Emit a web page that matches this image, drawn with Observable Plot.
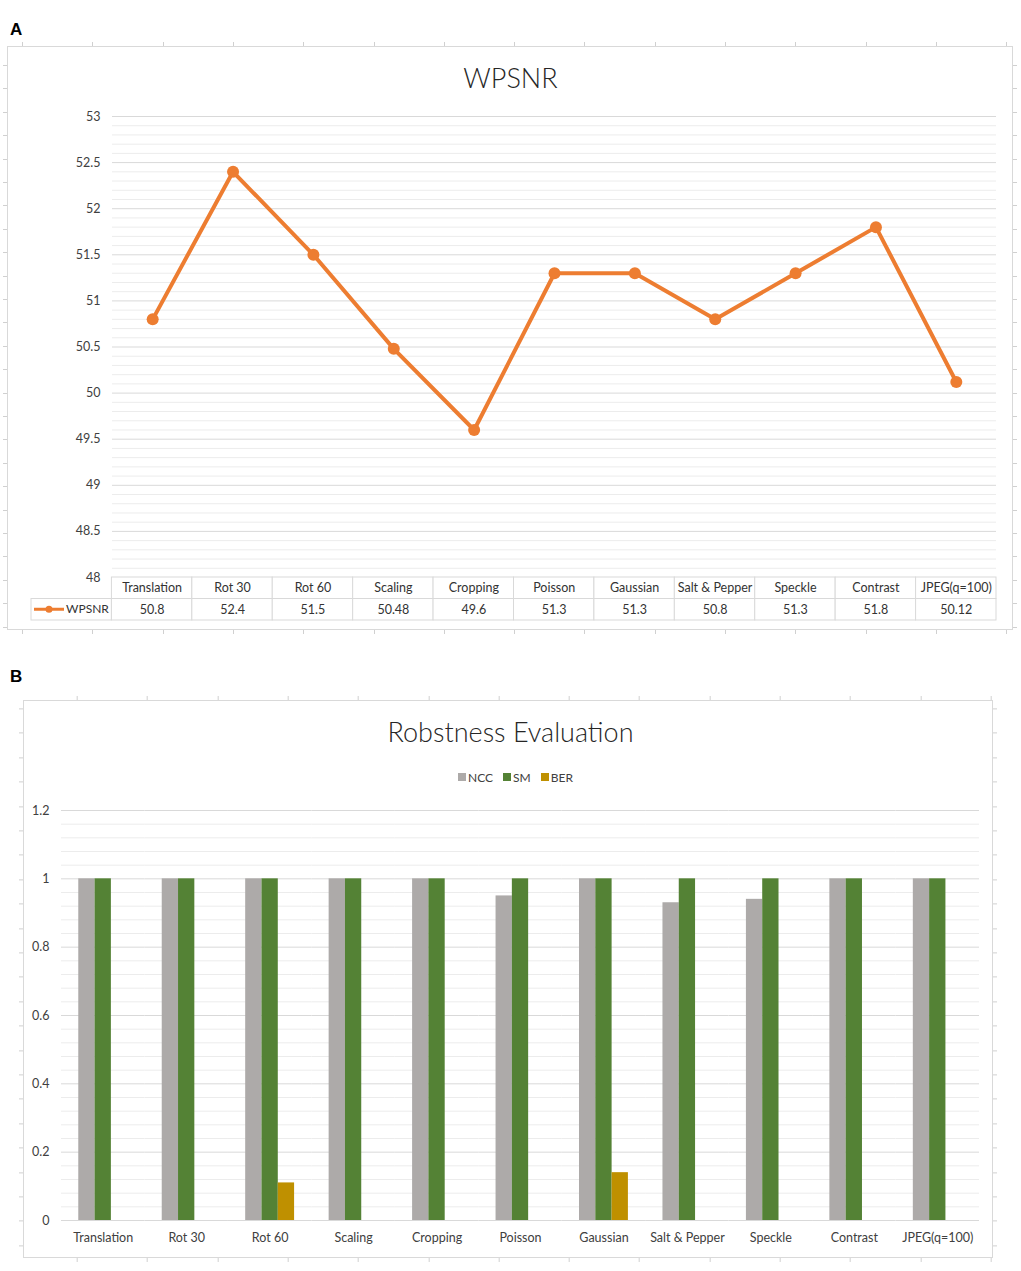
<!DOCTYPE html>
<html><head><meta charset="utf-8">
<script src="https://cdn.jsdelivr.net/npm/d3@7"></script>
<script src="https://cdn.jsdelivr.net/npm/@observablehq/plot@0.6"></script>
<style>
body{margin:0;background:#fff;width:1021px;height:1271px;position:relative;overflow:hidden;font-family:Lato, sans-serif;}
.abs{position:absolute;}
.frame{position:absolute;border:1px solid #d9d9d9;box-sizing:border-box;}
.panel-label{position:absolute;font:bold 17px "Liberation Sans", Arial, sans-serif;line-height:17px;color:#000;}
.title{position:absolute;left:0;width:1021px;text-align:center;font:300 27px Lato, sans-serif;line-height:27px;color:#262626;}
#legB{position:absolute;left:10px;width:1021px;top:765px;}
#legB > div{justify-content:center !important;font-family:Lato, sans-serif !important;font-size:12px !important;color:#404040 !important;margin:0 !important;min-height:24px !important;}
#legB span{margin-right:10px !important;}
#legB svg{margin-right:2px !important;}
</style></head><body>
<script>
// ---------- data ----------
const categories = ["Translation","Rot 30","Rot 60","Scaling","Cropping","Poisson","Gaussian","Salt & Pepper","Speckle","Contrast","JPEG(q=100)"];
const wpsnr = [50.8,52.4,51.5,50.48,49.6,51.3,51.3,50.8,51.3,51.8,50.12];
const wpsnrLabels = ["50.8","52.4","51.5","50.48","49.6","51.3","51.3","50.8","51.3","51.8","50.12"];
const seriesNames = ["NCC","SM","BER"];
const ncc = [1,1,1,1,1,0.95,1,0.93,0.94,1,1];
const sm  = [1,1,1,1,1,1,1,1,1,1,1];
const ber = [0,0,0.11,0,0,0,0.14,0,0,0,0];
const wpsnrTicks = [48,48.5,49,49.5,50,50.5,51,51.5,52,52.5,53];
const robTicks = [0,0.2,0.4,0.6,0.8,1,1.2];
const seriesColors = ["#ADAAA9","#548235","#BF9000"];
const lineColor = "#ED7D31";

const minorA = d3.range(0,51).map(i => +(48 + i*0.1).toFixed(1)).filter(v => !wpsnrTicks.includes(v));
const minorB = d3.range(0,31).map(i => +(i*0.04).toFixed(2)).filter(v => !robTicks.includes(v));

const dataA = categories.map((c,i) => ({cat:c, v:wpsnr[i]}));
const dataB = [];
categories.forEach((c,i) => {
  dataB.push({cat:c, s:"NCC", v:ncc[i]}, {cat:c, s:"SM", v:sm[i]}, {cat:c, s:"BER", v:ber[i]});
});
const legendKey = "__legend";
const tableCells = [{col:legendKey,row:"value"}];
const tableText = [];
categories.forEach((c,i) => {
  tableCells.push({col:c,row:"label"},{col:c,row:"value"});
  tableText.push({col:c,row:"label",text:c},{col:c,row:"value",text:wpsnrLabels[i]});
});

// ---------- helpers ----------
function el(tag, cls, css, text){
  const e = document.createElement(tag);
  if (cls) e.className = cls;
  Object.assign(e.style, css||{});
  if (text) e.textContent = text;
  document.body.appendChild(e);
  return e;
}
function frame(l,t,r,b,hStep,hOff,vStep,vOff){
  el("div","frame",{left:l+"px",top:t+"px",width:(r-l)+"px",height:(b-t)+"px"});
  const tick = "#d0d0d0";
  const hg = `repeating-linear-gradient(to right, ${tick} 0 1px, transparent 1px ${hStep}px)`;
  const vg = `repeating-linear-gradient(to bottom, ${tick} 0 1px, transparent 1px ${vStep}px)`;
  el("div","abs",{left:l+"px",top:(t-4)+"px",width:(r-l)+"px",height:"4px",backgroundImage:hg,backgroundPosition:hOff+"px 0"});
  el("div","abs",{left:l+"px",top:b+"px",width:(r-l)+"px",height:"4px",backgroundImage:hg,backgroundPosition:hOff+"px 0"});
  el("div","abs",{left:(l-4)+"px",top:t+"px",width:"4px",height:(b-t)+"px",backgroundImage:vg,backgroundPosition:"0 "+vOff+"px"});
  el("div","abs",{left:r+"px",top:t+"px",width:"4px",height:(b-t)+"px",backgroundImage:vg,backgroundPosition:"0 "+vOff+"px"});
}
function place(node, top){
  node.style.position = "absolute";
  node.style.left = "0px";
  node.style.top = top + "px";
  document.body.appendChild(node);
}
const baseStyle = {fontFamily:"Lato, sans-serif", fontSize:"12.5px", color:"#404040", background:"transparent", overflow:"visible"};

// ---------- Panel A ----------
el("div","panel-label",{left:"10px",top:"21px"},"A");
frame(7,46,1013,630,70.3,15,23.4,19);
el("div","title",{top:"64px"},"WPSNR");

const chartA = Plot.plot({
  width:1021, height:640, marginTop:116, marginBottom:63, marginLeft:112, marginRight:25,
  style: baseStyle,
  x:{type:"point", domain:categories, padding:0.5, round:false, axis:null},
  y:{domain:[48,53], ticks:wpsnrTicks, tickSize:0, tickPadding:12, tickFormat:d => String(d), label:null},
  marks:[
    Plot.ruleY(minorA, {stroke:"#ececec"}),
    Plot.ruleY(wpsnrTicks.filter(d => d > 48), {stroke:"#d9d9d9"}),
    Plot.line(dataA, {x:"cat", y:"v", stroke:lineColor, strokeWidth:4}),
    Plot.dot(dataA, {x:"cat", y:"v", r:6, fill:lineColor, stroke:"none"})
  ]
});
place(chartA, 0);

const tableA = Plot.plot({
  width:1021, height:45, marginTop:1, marginBottom:1, marginLeft:31, marginRight:25,
  style: Object.assign({}, baseStyle, {color:"#333"}),
  x:{type:"band", domain:[legendKey, ...categories], padding:0, round:false, axis:null},
  y:{type:"band", domain:["label","value"], padding:0, round:false, axis:null},
  marks:[
    Plot.cell(tableCells, {x:"col", y:"row", fill:"white", stroke:"#d9d9d9"}),
    Plot.text(tableText, {x:"col", y:"row", text:"text", fill:"#333"})
  ]
});
(function addLegendSwatch(){
  const sx = tableA.scale("x"), sy = tableA.scale("y");
  const x0 = sx.apply(legendKey);
  const yc = sy.apply("value") + sy.bandwidth/2;
  const g = d3.select(tableA).append("g");
  g.append("line").attr("x1", x0+3).attr("x2", x0+33).attr("y1", yc).attr("y2", yc)
    .attr("stroke", lineColor).attr("stroke-width", 3);
  g.append("circle").attr("cx", x0+18).attr("cy", yc).attr("r", 3.5).attr("fill", lineColor);
  g.append("text").attr("x", x0+35).attr("y", yc).attr("dy","0.35em").attr("fill","#333")
    .attr("text-anchor","start")
    .attr("font-family","Lato, sans-serif").attr("font-size","12px").text("WPSNR");
})();
place(tableA, 576);

// ---------- Panel B ----------
el("div","panel-label",{left:"10px",top:"668px"},"B");
frame(23,700,993,1258,70.3,53.7,24.4,8.4);
el("div","title",{top:"718px"},"Robstness Evaluation");

const chartB = Plot.plot({
  width:1021, height:558, marginTop:110, marginBottom:38, marginLeft:61, marginRight:42,
  style: baseStyle,
  facet:{data:dataB, x:"cat"},
  fx:{domain:categories, padding:0, round:false, axis:"bottom", tickSize:0, tickPadding:13, label:null},
  x:{domain:seriesNames, paddingInner:0, paddingOuter:1.06, round:false, axis:null},
  y:{domain:[0,1.2], ticks:robTicks, tickSize:0, tickPadding:12, tickFormat:d => String(d), label:null},
  color:{domain:seriesNames, range:seriesColors},
  marks:[
    Plot.ruleY(minorB, {stroke:"#ececec"}),
    Plot.ruleY(robTicks, {stroke:"#d9d9d9"}),
    Plot.barY(dataB, {x:"s", y:"v", fill:"s"})
  ]
});
place(chartB, 700);

const legB = el("div", null, {});
legB.id = "legB";
legB.appendChild(chartB.legend("color", {swatchSize:8, className:"legb"}));
</script>
</body></html>
